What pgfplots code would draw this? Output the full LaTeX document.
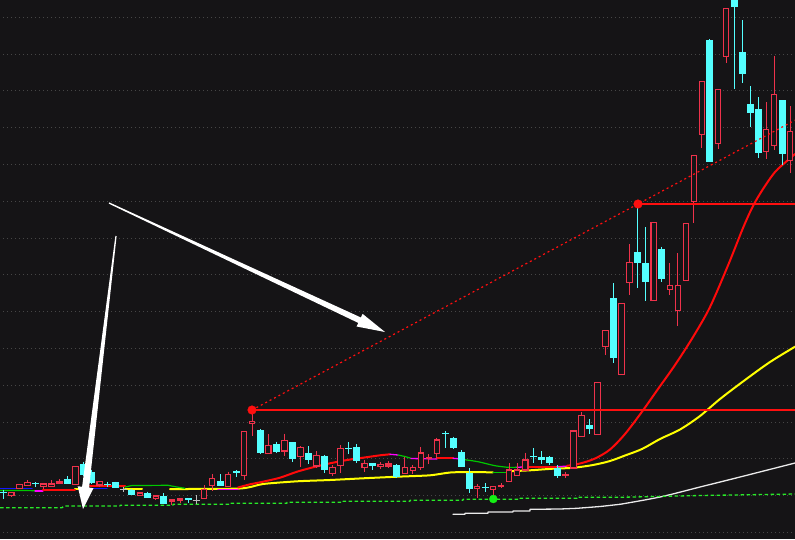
\documentclass[border=0pt]{standalone}
\usepackage{pgfplots}
\usepackage{pgfplotstable}
\pgfplotsset{compat=1.18}

\definecolor{bg}{RGB}{21,20,22}
\definecolor{gridc}{RGB}{70,70,70}
\definecolor{upc}{RGB}{238,50,75}
\definecolor{dnc}{RGB}{84,255,255}
\definecolor{dojic}{RGB}{190,190,190}
\definecolor{mared}{RGB}{255,10,10}
\definecolor{mayel}{RGB}{255,255,0}
\definecolor{mawht}{RGB}{235,235,235}
\definecolor{mamag}{RGB}{255,0,255}
\definecolor{magrn}{RGB}{0,200,0}
\definecolor{mablu}{RGB}{20,20,255}
\definecolor{dashgrn}{RGB}{40,235,40}
\definecolor{dotgrn}{RGB}{20,240,20}
\definecolor{lvl}{RGB}{255,15,15}

% daily candles: x position, open, high, low, close (screen units, y grows downward)
\pgfplotstableread{
x o h l c
3.3 491.5 489.5 499 493
11.3 495.3 492.3 496.7 492.3
19.4 488.3 484.3 488.3 484.3
27.4 485.7 480 485.7 482.3
35.4 483 482 487 484.3
43.5 486.3 484 488.5 484
51.5 486.3 480 486.3 484
59.5 483.7 479.3 483.7 482
67.5 479 476 484.3 484.3
75.6 484.3 466.3 484.3 466.3
83.6 464 461.7 476 475
91.6 472 470 484 483.3
99.7 485 481.3 487 481.3
107.7 483.5 481.5 487 484.7
115.7 482.3 481.5 488 487.7
123.8 489 486.7 492 489
131.8 489.5 489 495 495
139.8 495.7 493 495.7 493
147.8 493 491.7 497.7 497.7
155.9 498.7 496 500 496
163.9 496 493.3 504.3 503.7
171.9 501.7 500 505 500
180 500.7 499 502.7 499
188 498 498 502.7 499.5
196 500 495.3 504 500
204.1 498.7 485 498.7 489.3
212.1 485.3 474 490.7 478.3
220.1 481 474 485.7 485.7
228.1 486.7 471.7 486.7 474.3
236.2 471 470 477.3 472.5
244.2 475.5 431.3 479.5 431.3
252.2 423.3 410.7 435.5 421.3
260.3 430 429 453.7 452.7
268.3 453.3 434 453.3 445.3
276.3 444 441.7 453.3 451.7
284.4 451 433.7 455.7 440.3
292.4 442.3 442 461.7 459
300.4 456.7 446 466.7 447.3
308.4 453.3 446 464 460
316.5 466 451 468.3 455.3
324.5 456.3 455 472.7 470
332.5 473.5 465 476 467.3
340.6 465.7 445.3 472.7 448.3
348.6 448 442.3 454.3 449.3
356.6 447.3 444.3 463.3 460.7
364.7 467.5 460 471.7 463.3
372.7 463.3 463 470 466
380.7 466.7 462.3 469 464.3
388.7 466 461 468.3 464
396.8 465 464 477.7 477
404.8 473.5 457.3 473.5 467.3
412.8 470.7 465 473.7 467.3
420.9 467.5 447 470 453
428.9 458.7 454.3 464 457.3
436.9 453.5 437.7 459 440
445 433 431 447.7 434.3
453 438.3 436.7 449 447.7
461 452.3 450.3 466.7 466.7
469 472.7 468.3 492.7 488.5
477.1 488.3 484.3 497.7 486.3
485.1 487 483.3 491.7 488.3
493.1 489.3 486.3 496.7 486.3
501.2 486.7 483.3 488.3 485.3
509.2 481.7 463 481.7 470
517.2 475.7 463 475.7 470
525.3 470 452.7 470 460
533.3 456 448.3 462.5 457.3
541.3 456.7 451 464 459.5
549.3 456.7 456 465 463.3
557.4 468 465 477.7 476
565.4 475.5 471.7 477.7 474.3
573.4 468 431 468 431
581.5 436.7 412.3 436.7 415.3
589.5 425 419.3 434 429
597.5 434.3 382.3 434.3 382.3
605.6 346.5 330.3 355 330.3
613.6 298 283.3 362.7 357.7
621.6 374.3 303.3 374.3 303.3
629.6 282.3 244 295 262.3
637.7 252 204 287.7 262.7
645.7 263 227 300.7 281.7
653.7 300.5 222.3 300.5 222.3
661.8 249 246.7 282.3 278.7
669.8 289.3 263 295 285.3
677.8 310.3 253 325.7 285.3
685.9 280.3 223.3 280.3 223.3
693.9 201.7 155.3 222.7 155.3
701.9 134.3 81.3 147.7 81.3
709.9 40.3 39 161.7 161.7
718 143.3 89.3 148.7 89.3
726 56.3 8.3 62.7 8.3
734 -10 -15 88.7 6.7
742.1 52.3 20 83.3 73.7
750.1 104 86 126.7 112.7
758.1 109 97 157.7 152.7
766.2 151.3 102 158.7 129.3
774.2 145.7 56 149.7 94.3
782.2 100 100 165 153.7
790.2 160.3 106 172.7 131.3
}\candles

\tikzset{
  ma/.style={mark=none, line width=#1, line join=round, line cap=round},
}

\begin{document}
\begin{tikzpicture}
\begin{axis}[
  width=795pt, height=539pt, scale only axis,
  xmin=0, xmax=795, ymin=0, ymax=539, y dir=reverse,
  axis line style={draw=none},
  axis background/.style={fill=bg},
  xtick=\empty,
  ytick={17.3,54.1,...,533},
  yticklabels={},
  major tick length=0pt,
  ymajorgrids=true,
  major grid style={gridc, line width=1pt, dash pattern=on 1pt off 3pt, dash phase=1pt},
  clip=true,
]

% long average (white)
\addplot[ma=1.3pt, mawht] coordinates {
 (453,514.3) (465,514.3) (465,513.3) (488,513.3) (488,512) (513,512) (513,511)
 (530,511) (530,509.3) (560,509) (577,508.3) (600,506.5) (620,504.3)};
\addplot[ma=1.3pt, mawht, smooth] coordinates {
 (620,504.3) (660,497) (700,487) (740,477) (795,463)};

% dashed green average
\addplot[ma=1.3pt, dashgrn, dash pattern=on 3.5pt off 2.5pt, line cap=butt] coordinates {
 (0,507.7) (62,507.7) (64,506) (120,506) (120,505.3) (173,505.3) (173,504.3)
 (230,504.3) (230,503.3) (287,503.3) (287,502.3) (343,502.3) (343,501.3)
 (410,501.3) (410,500.3) (463,500.3) (463,499.3) (520,499.3) (520,498.3)
 (577,498.3) (577,497.3) (620,497.3) (700,495.5) (795,494)};

% medium average (yellow with a green stretch)
\addplot[ma=2pt, mayel] coordinates {(75,489) (82,489)};
\addplot[ma=2pt, mayel] coordinates {(125,488.7) (142,488.7)};
\addplot[ma=2pt, mayel, smooth, tension=0.4] coordinates {
 (170,489) (240,488.5) (263,484) (297,481.3) (330,480) (363,478.3) (397,476.7)
 (430,475.3) (453,472.3) (493,472.3)};
\addplot[ma=1.2pt, magrn] coordinates {(493,472.3) (510,472.3)};
\addplot[ma=2pt, mayel, smooth, tension=0.5] coordinates {
 (510,471.2) (530,470.3) (553,468.7) (573,467.8) (593,465) (610,461)
 (625,455.5) (642,449) (660,439) (680,429.5) (700,416) (720,399) (745,380) (770,362) (795,346.7)};

% short averages on the left
\addplot[ma=1.3pt, mablu] coordinates {(0,488.7) (32,488.7)};
\addplot[ma=1.3pt, mablu] coordinates {(90,488.7) (107,488.7)};
\addplot[ma=1.2pt, magrn] coordinates {(0,490.5) (23,490.5) (35,490.7)};
\addplot[ma=1.2pt, mamag] coordinates {(35,491) (43,491)};
\addplot[ma=2pt, mared] coordinates {(43,490.3) (75,490.3)};
\addplot[ma=2pt, mared] coordinates {(90,485.7) (125,485.7)};
\addplot[ma=1.2pt, magrn] coordinates {(125,487) (132,485.5) (168,485.3) (177,487) (185,488.3)};

% short average (red with coloured stretches)
\addplot[ma=1.3pt, mamag] coordinates {(218,489.5) (238,489.5)};
\addplot[ma=2pt, mared, smooth, tension=0.4] coordinates {
 (238,487.5) (250,484.3) (263,481.7) (280,477.7) (297,471.7) (313,467.3)
 (330,463.3) (347,460) (363,457.7) (380,455.3) (390,454.3)};
\addplot[ma=1.3pt, mamag] coordinates {(390,454.3) (398,455)};
\addplot[ma=1.2pt, magrn] coordinates {(398,455) (405,456.5) (411,458.3)};
\addplot[ma=1.3pt, mamag] coordinates {(411,458.5) (437,459)};
\addplot[ma=2pt, mared] coordinates {(437,458) (453,458)};
\addplot[ma=1.3pt, mamag] coordinates {(453,458.3) (462,459)};
\addplot[ma=1.2pt, magrn, smooth, tension=0.4] coordinates {(462,459.3) (478,461.7) (495,465.7) (508,467.3) (517,467.3)};
\addplot[ma=1.3pt, mamag] coordinates {(517,467.3) (523,467)};
\addplot[ma=2pt, mared] coordinates {(523,466.7) (557,466.7)};
\addplot[ma=1.3pt, mamag] coordinates {(557,466.5) (567,466.3)};
\addplot[ma=2pt, mared, smooth, tension=0.5] coordinates {
 (567,465.8) (580,463.5) (595,458.5) (610,449.5) (625,434) (642,411.7)
 (658,389) (675,365) (693,337) (710,307) (729,263) (743,228)
 (753,206) (763,189) (775,172) (788,160) (795,154)};

% candles
\pgfplotsinvokeforeach{0,...,98}{
  \pgfplotstablegetelem{#1}{x}\of\candles \let\cx\pgfplotsretval
  \pgfplotstablegetelem{#1}{o}\of\candles \let\co\pgfplotsretval
  \pgfplotstablegetelem{#1}{h}\of\candles \let\ch\pgfplotsretval
  \pgfplotstablegetelem{#1}{l}\of\candles \let\cl\pgfplotsretval
  \pgfplotstablegetelem{#1}{c}\of\candles \let\cc\pgfplotsretval
  \ifdim\cc pt<\co pt
    \pgfmathsetmacro\xa{\cx-2.7}\pgfmathsetmacro\xb{\cx+2.7}
    \edef\tmp{%
      \noexpand\addplot[mark=none, upc, line width=1pt] coordinates {(\cx,\ch) (\cx,\cl)};
      \noexpand\addplot[mark=none, draw=upc, fill=bg, line width=1.1pt]
        coordinates {(\xa,\co) (\xb,\co) (\xb,\cc) (\xa,\cc)} --cycle;}%
    \tmp
  \else
    \ifdim\cc pt>\co pt
      \pgfmathsetmacro\xa{\cx-3.5}\pgfmathsetmacro\xb{\cx+3.5}
      \edef\tmp{%
        \noexpand\addplot[mark=none, dnc, line width=1pt] coordinates {(\cx,\ch) (\cx,\cl)};
        \noexpand\addplot[mark=none, draw=none, fill=dnc]
          coordinates {(\xa,\co) (\xb,\co) (\xb,\cc) (\xa,\cc)} --cycle;}%
      \tmp
    \else
      \pgfmathsetmacro\xa{\cx-3.5}\pgfmathsetmacro\xb{\cx+3.5}
      \edef\tmp{%
        \noexpand\addplot[mark=none, dojic, line width=1pt] coordinates {(\cx,\ch) (\cx,\cl)};
        \noexpand\addplot[mark=none, dojic, line width=1pt] coordinates {(\xa,\co) (\xb,\co)};}%
      \tmp
    \fi
  \fi
}

% support levels and trend line
\addplot[mark=none, lvl, line width=1.2pt] coordinates {(252,410) (795,410)};
\addplot[mark=none, lvl, line width=1.2pt] coordinates {(638,204) (795,204)};
\addplot[mark=none, lvl, line width=1.2pt, dash pattern=on 2pt off 3pt] coordinates {(252,410) (795,120.2)};
\addplot[only marks, mark=*, mark size=4.3pt, lvl] coordinates {(252,410) (638,204)};
\addplot[only marks, mark=*, mark size=4pt, dotgrn] coordinates {(493.3,499)};

% hand-drawn arrows
\addplot[mark=none, draw=none, fill=white] coordinates {
 (108.7,203.6) (358.3,322.9) (356.6,326.5) (385,332) (362.6,313.9) (360.9,317.5) (109.3,202.4)} --cycle;
\addplot[mark=none, draw=none, fill=white] coordinates {
 (115.4,235.9) (82.1,486.8) (77.7,486.2) (83,509) (93.5,488.2) (89.1,487.6) (116.6,236.1)} --cycle;

\end{axis}
\pgfresetboundingbox
\path (current axis.south west) rectangle (current axis.north east);
\end{tikzpicture}
\end{document}
